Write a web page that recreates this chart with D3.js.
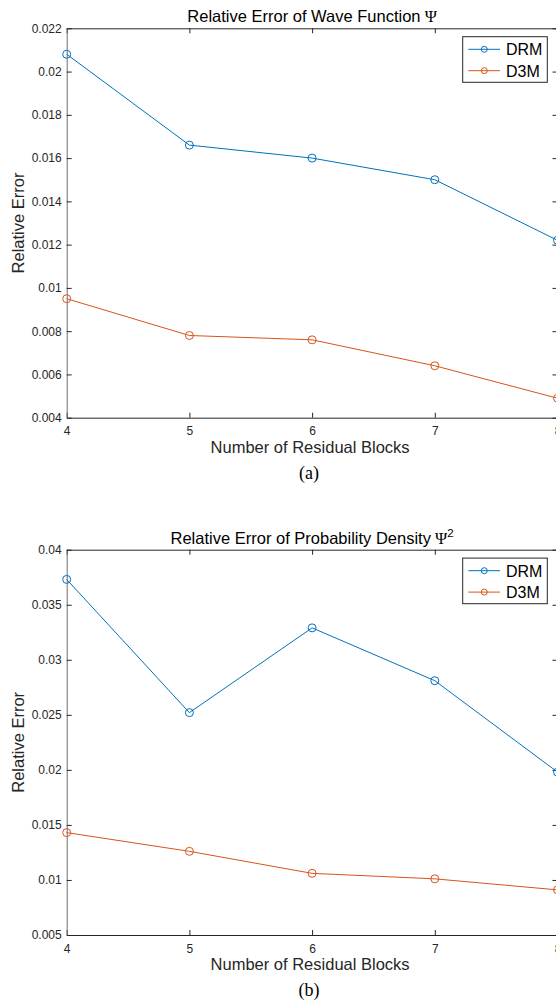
<!doctype html>
<html lang="en">
<head>
<meta charset="utf-8" />
<title>Relative Error vs Residual Blocks</title>
<script src="https://d3js.org/d3.v7.min.js"></script>
<style>
  body { margin: 0; background: #fff; }
  svg { display: block; font-family: "Liberation Sans", Arial, Helvetica, sans-serif; }
</style>
</head>
<body>
<div id="chart"></div>
<script>
// data
var blocks = [4, 5, 6, 7, 8];
var drmWave = [0.0208, 0.0166, 0.0160, 0.0150, 0.0122];
var d3mWave = [0.0095, 0.0078, 0.0076, 0.0064, 0.0049];
var drmDensity = [0.0373, 0.0252, 0.0329, 0.0281, 0.0198];
var d3mDensity = [0.0143, 0.0126, 0.0106, 0.0101, 0.0091];
var waveTicks = [0.004, 0.006, 0.008, 0.01, 0.012, 0.014, 0.016, 0.018, 0.02, 0.022];
var densityTicks = [0.005, 0.01, 0.015, 0.02, 0.025, 0.03, 0.035, 0.04];
var seriesNames = ["DRM", "D3M"];
var colors = ["#0072BD", "#D95319"];

var width = 556, height = 1005;
var left = 66.7, right = 557.5;

var svg = d3.select("#chart").append("svg")
    .attr("width", width)
    .attr("height", height);

var x = d3.scaleLinear().domain([4, 8]).range([left, right]);

function panel(opts) {
    var y = d3.scaleLinear().domain(opts.domain).range([opts.bottom, opts.top]);
    var g = svg.append("g");

    // box + inward ticks (bottom / top / left / right)
    var axisColor = "#262626";
    g.append("g").attr("transform", `translate(0,${opts.bottom})`)
        .call(d3.axisBottom(x).tickValues(blocks).tickSize(-5).tickPadding(9).tickSizeOuter(0).tickFormat(d3.format("d")));
    g.append("g").attr("transform", `translate(0,${opts.top})`)
        .call(d3.axisTop(x).tickValues(blocks).tickSize(-5).tickSizeOuter(0).tickFormat(""));
    g.append("g").attr("transform", `translate(${left},0)`)
        .attr("class", "yleft")
        .call(d3.axisLeft(y).tickValues(opts.ticks).tickSize(-5).tickPadding(5).tickSizeOuter(0)
            .tickFormat(d => String(+d.toFixed(3))));
    g.append("g").attr("transform", `translate(${right},0)`)
        .call(d3.axisRight(y).tickValues(opts.ticks).tickSize(-5).tickSizeOuter(0).tickFormat(""));

    g.selectAll(".domain").attr("stroke", axisColor).attr("stroke-width", 1);
    g.selectAll(".tick line").attr("stroke", axisColor);
    g.selectAll(".tick text").attr("fill", "#262626").style("font-size", "12px");
    g.select(".yleft .domain").attr("stroke", "#6e6e6e");

    // series
    var line = d3.line().x((d, i) => x(blocks[i])).y(d => y(d));
    opts.series.forEach(function (vals, k) {
        g.append("path")
            .datum(vals)
            .attr("fill", "none")
            .attr("stroke", colors[k])
            .attr("stroke-width", 1)
            .attr("d", line);
        g.selectAll(".m" + k)
            .data(vals)
            .enter().append("circle")
            .attr("cx", (d, i) => x(blocks[i]))
            .attr("cy", d => y(d))
            .attr("r", 4)
            .attr("fill", "none")
            .attr("stroke", colors[k])
            .attr("stroke-width", 1);
    });

    // title
    var t = g.append("text")
        .attr("x", (left + right) / 2)
        .attr("y", opts.top - 6)
        .attr("text-anchor", "middle")
        .style("font-size", "16.5px")
        .attr("fill", "#000");
    t.append("tspan").text(opts.title);
    t.append("tspan").style("font-family", "'Liberation Serif', 'Times New Roman', serif").text(" Ψ");
    if (opts.sup) {
        t.append("tspan").attr("dy", -7).style("font-size", "11.5px").text(opts.sup);
    }

    // axis labels
    g.append("text")
        .attr("x", (left + right) / 2 - 2)
        .attr("y", opts.bottom + 35)
        .attr("text-anchor", "middle")
        .style("font-size", "16.5px")
        .attr("fill", "#262626")
        .text("Number of Residual Blocks");
    g.append("text")
        .attr("transform", `translate(24,${(opts.top + opts.bottom) / 2}) rotate(-90)`)
        .attr("text-anchor", "middle")
        .style("font-size", "16.5px")
        .attr("fill", "#262626")
        .text("Relative Error");
    g.append("text")
        .attr("x", 309)
        .attr("y", opts.bottom + 61)
        .attr("text-anchor", "middle")
        .style("font-family", "'Liberation Serif', 'Times New Roman', serif")
        .style("font-size", "18px")
        .attr("fill", "#000")
        .text(opts.caption);

    // legend
    var lx = 462.7, ly = opts.top + 8.4;
    var leg = g.append("g");
    leg.append("rect")
        .attr("x", lx).attr("y", ly)
        .attr("width", 84.6).attr("height", 45.6)
        .attr("fill", "#fff")
        .attr("stroke", "#262626")
        .attr("stroke-width", 1);
    seriesNames.forEach(function (name, k) {
        var yy = ly + 12.6 + k * 21.4;
        leg.append("line")
            .attr("x1", lx + 5.6).attr("x2", lx + 37.3)
            .attr("y1", yy).attr("y2", yy)
            .attr("stroke", colors[k]).attr("stroke-width", 1);
        leg.append("circle")
            .attr("cx", lx + 21.6).attr("cy", yy).attr("r", 3)
            .attr("fill", "none").attr("stroke", colors[k]);
        leg.append("text")
            .attr("x", lx + 43.3).attr("y", yy + 5.8)
            .style("font-size", "16px")
            .attr("fill", "#000")
            .text(name);
    });
}

panel({
    top: 28.3, bottom: 417.7,
    domain: [0.004, 0.022], ticks: waveTicks,
    series: [drmWave, d3mWave],
    title: "Relative Error of Wave Function",
    caption: "(a)"
});

panel({
    top: 549.7, bottom: 935,
    domain: [0.005, 0.04], ticks: densityTicks,
    series: [drmDensity, d3mDensity],
    title: "Relative Error of Probability Density",
    sup: "2",
    caption: "(b)"
});
</script>
</body>
</html>
